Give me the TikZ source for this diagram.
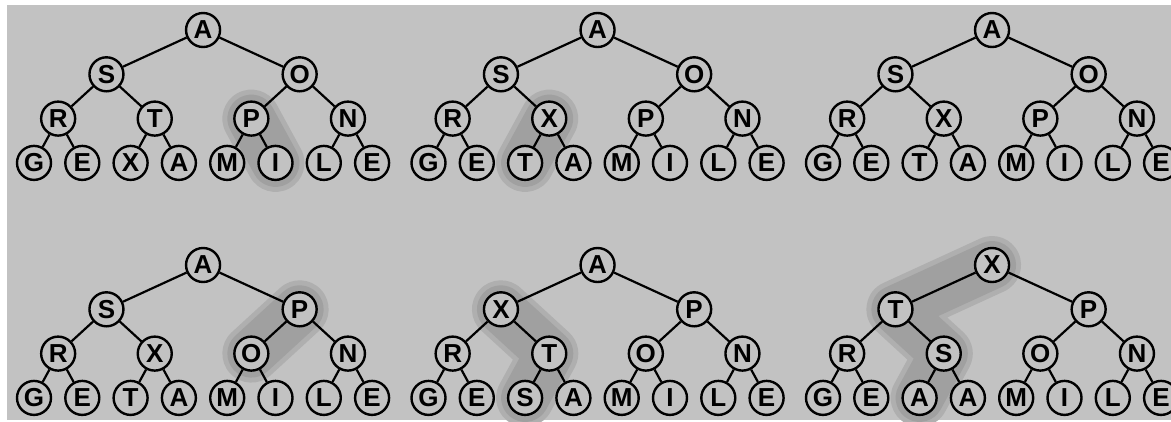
\documentclass[tikz,border=0pt]{standalone}
\usepackage{fontspec}
\setmainfont{Liberation Sans}
\pgfdeclarelayer{back}
\pgfdeclarelayer{hl}
\pgfsetlayers{back,hl,main}
\definecolor{bgc}{HTML}{C2C2C2}
\definecolor{hlc}{HTML}{A0A0A0}
\definecolor{hlc2}{HTML}{AFAFAF}
\tikzset{
  hn/.style={circle,draw=black,line width=2.4pt,fill=bgc,minimum size=34pt,inner sep=0pt,
    font=\fontsize{26}{26}\selectfont\bfseries},
  edge/.style={line width=2.2pt},
  hlout/.style={line width=58pt,line cap=round,line join=round,draw=hlc2},
  hlin/.style={line width=48pt,line cap=round,line join=round,draw=hlc},
}
\newcommand\heap[4]{%
  \foreach \lab [count=\k] in {#4} {%
    \ifnum\k<2 \def\lv{0}\def\base{1}\else
    \ifnum\k<4 \def\lv{1}\def\base{2}\else
    \ifnum\k<8 \def\lv{2}\def\base{4}\else
    \def\lv{3}\def\base{8}\fi\fi\fi
    \pgfmathsetmacro\xx{#2+48.3*(2^(3-\lv))*(\k-\base+0.5)-24.15}
    \pgfmathsetmacro\yy{#3+44.3*\lv}
    \node[hn] (#1\k) at (\xx,\yy) {\lab};
  }
  \foreach \k in {2,...,15} {\pgfmathtruncatemacro\p{\k/2}\draw[edge] (#1\p) -- (#1\k);}
}
\newcommand\hlpath[1]{\begin{pgfonlayer}{hl}\draw[hlout] #1; \draw[hlin] #1;\end{pgfonlayer}}
\begin{document}
\begin{tikzpicture}[x=1pt,y=-1pt]
  \useasboundingbox (0,0) rectangle (1171,421);
  \begin{pgfonlayer}{back}
    \fill[white] (0,0) rectangle (1171,421);
    \fill[bgc] (7,5) rectangle (1171,420);
  \end{pgfonlayer}
  \heap{ta}{34}{30}{A,S,O,R,T,P,N,G,E,X,A,M,I,L,E}
  \heap{tb}{428.5}{30}{A,S,O,R,X,P,N,G,E,T,A,M,I,L,E}
  \heap{tc}{823}{30}{A,S,O,R,X,P,N,G,E,T,A,M,I,L,E}
  \heap{td}{34}{265}{A,S,P,R,X,O,N,G,E,T,A,M,I,L,E}
  \heap{te}{428.5}{265}{A,X,P,R,T,O,N,G,E,S,A,M,I,L,E}
  \heap{tf}{823}{265}{X,T,P,R,S,O,N,G,E,A,A,M,I,L,E}
  \hlpath{(ta6.center) -- (ta13.center)}
  \hlpath{(tb5.center) -- (tb10.center)}
  \hlpath{(td3.center) -- (td6.center)}
  \hlpath{(te2.center) -- (te5.center) -- (te10.center)}
  \hlpath{(tf1.center) -- (tf2.center) -- (tf5.center) -- (tf10.center)}
\end{tikzpicture}
\end{document}
